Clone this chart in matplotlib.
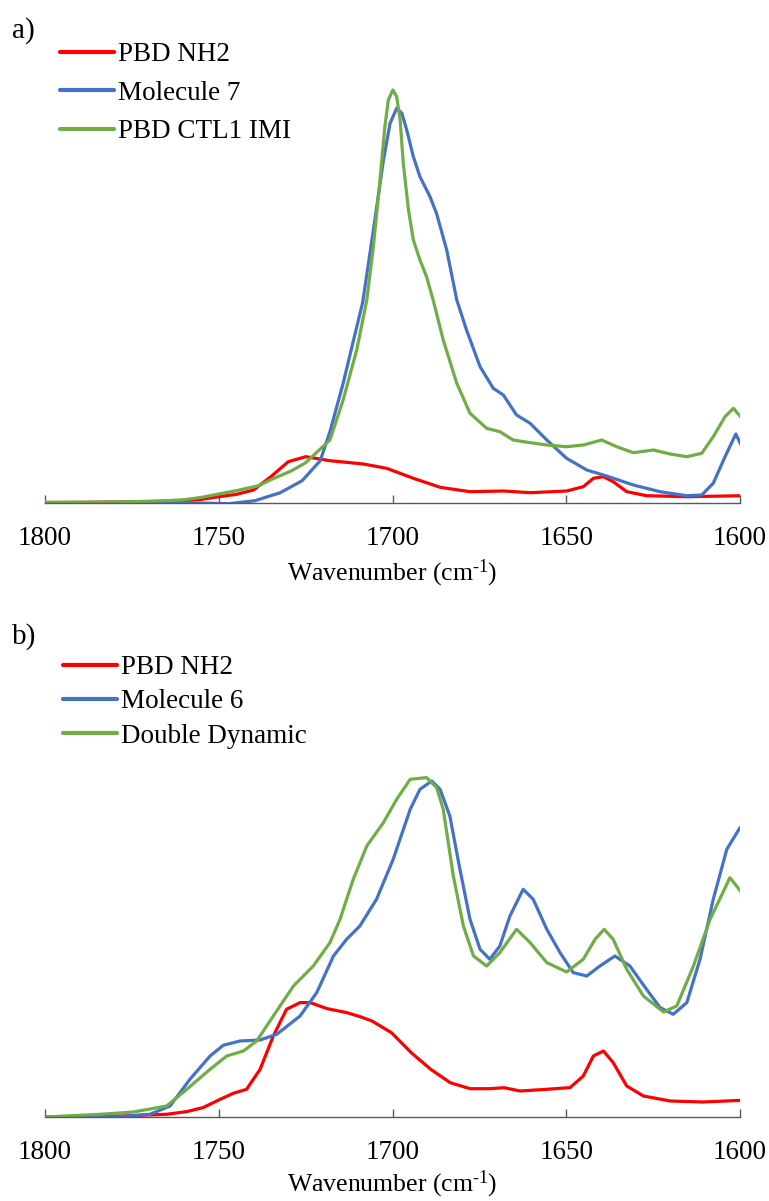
import matplotlib
matplotlib.use("Agg")
import matplotlib.pyplot as plt

plt.rcParams['font.family'] = ['Liberation Serif', 'DejaVu Serif']
plt.rcParams['mathtext.fontset'] = 'custom'
plt.rcParams['mathtext.rm'] = 'Liberation Serif'
plt.rcParams['mathtext.it'] = 'Liberation Serif:italic'

RED = '#FF0000'
BLUE = '#4472C4'
GREEN = '#70AD47'

# ---------------- Panel a data (wavenumber, absorbance a.u.) ----------------
a_red_x = [1800, 1785, 1770, 1760, 1755, 1750, 1745, 1740, 1735, 1730, 1725, 1718, 1708.4,
           1701.7, 1694, 1686.3, 1677.7, 1668.1, 1660.4, 1649.9, 1645.1, 1642.2, 1639.3,
           1636.5, 1632.6, 1626.9, 1615.3, 1599.2]
a_red_y = [0.0, 0.005, 0.01, 0.02, 0.033, 0.06, 0.083, 0.127, 0.26, 0.41, 0.46, 0.42, 0.387,
           0.344, 0.244, 0.154, 0.11, 0.117, 0.10, 0.117, 0.16, 0.244, 0.26,
           0.21, 0.11, 0.07, 0.06, 0.07]

a_blue_x = [1800, 1760, 1747, 1739.6, 1732.3, 1726, 1720.8, 1718, 1714.2, 1711.2, 1708.6,
            1705.5, 1702.6, 1700.7, 1698.8, 1697.3, 1695.9, 1694, 1692.1, 1689.2, 1687.3,
            1684.4, 1681.5, 1678.7, 1674.8, 1671, 1668.1, 1664.3, 1660.4, 1655.6, 1649.9,
            1644.1, 1638.4, 1630.7, 1623, 1615.3, 1611, 1607.7, 1604.3, 1601.2, 1599.2]
a_blue_y = [0.0, 0.0, -0.01, 0.02, 0.10, 0.22, 0.42, 0.71, 1.194, 1.627, 2.0,
            2.727, 3.427, 3.794, 3.944, 3.894, 3.727, 3.46, 3.26, 3.06, 2.89,
            2.527, 2.027, 1.727, 1.36, 1.144, 1.077, 0.877, 0.794, 0.627, 0.444,
            0.327, 0.267, 0.177, 0.11, 0.07, 0.077, 0.194, 0.46, 0.687, 0.544]

a_green_x = [1800, 1785, 1775, 1765, 1760, 1755, 1750, 1745, 1738.5, 1735, 1729, 1725, 1718,
             1714.2, 1710.3, 1707.4, 1705.5, 1703.6, 1702.2, 1701.2, 1699.9, 1698.8, 1697.8,
             1696.9, 1695.4, 1694, 1692.1, 1690.2, 1688.3, 1685.4, 1681.5, 1677.7, 1672.9,
             1669.1, 1665.3, 1660.4, 1655.6, 1649.9, 1645.1, 1639.8, 1635.5, 1630.7, 1624.9,
             1620.1, 1615.3, 1611, 1607.7, 1604.3, 1601.9, 1599.2]
a_green_y = [0.005, 0.005, 0.01, 0.02, 0.03, 0.053, 0.087, 0.12, 0.17, 0.23, 0.32, 0.40, 0.627,
             1.027, 1.527, 2.027, 2.56, 3.227, 3.76, 4.027, 4.127, 4.06, 3.827,
             3.394, 2.927, 2.627, 2.427, 2.26, 2.027, 1.627, 1.194, 0.894, 0.744,
             0.71, 0.627, 0.60, 0.577, 0.56, 0.577, 0.627, 0.56, 0.50, 0.527,
             0.487, 0.46, 0.494, 0.66, 0.86, 0.944, 0.834]

# ---------------- Panel b data ----------------
b_red_x = [1800, 1777.7, 1765, 1759.2, 1754.5, 1749.6, 1745.8, 1742, 1738.1, 1734.3, 1730.5,
           1726.6, 1723.7, 1718.9, 1713.2, 1709.4, 1705.9, 1700.3, 1694.6, 1689, 1683.4,
           1677.7, 1672.1, 1667.9, 1663.3, 1655.6, 1648.9, 1645.1, 1642.2, 1639.3, 1636.5,
           1632.6, 1627.8, 1620.1, 1610.6, 1599.5]
b_red_y = [0.0, 0.01, 0.027, 0.054, 0.094, 0.177, 0.237, 0.277, 0.477, 0.81, 1.077,
           1.144, 1.144, 1.084, 1.044, 1.004, 0.96, 0.843, 0.643, 0.477, 0.343,
           0.283, 0.283, 0.293, 0.26, 0.277, 0.294, 0.41, 0.61, 0.66, 0.544,
           0.31, 0.21, 0.16, 0.15, 0.167]

b_blue_x = [1800, 1780, 1769.8, 1764, 1758.3, 1752.5, 1748.7, 1743.9, 1738.1, 1733.3, 1726.6,
            1721.8, 1717, 1713.2, 1709.4, 1704.6, 1699.8, 1694.9, 1692.1, 1688.7, 1686.3,
            1683.5, 1680.6, 1677.7, 1674.8, 1672, 1669.1, 1666.2, 1662.4, 1659.5, 1655.6,
            1651.8, 1648, 1644.1, 1640.3, 1636, 1631.7, 1626.9, 1623, 1619.2, 1615.3,
            1611.5, 1607.7, 1603.8, 1600]
b_blue_y = [0.0, 0.0, 0.027, 0.11, 0.377, 0.61, 0.717, 0.76, 0.77, 0.827, 1.01,
            1.244, 1.61, 1.777, 1.91, 2.177, 2.577, 3.077, 3.277, 3.36, 3.277,
            3.01, 2.477, 1.977, 1.677, 1.577, 1.71, 2.01, 2.277, 2.177, 1.877,
            1.644, 1.444, 1.41, 1.51, 1.61, 1.51, 1.277, 1.094, 1.027, 1.144,
            1.577, 2.177, 2.677, 2.894]

b_green_x = [1800, 1784.2, 1774.6, 1765, 1759.2, 1752.5, 1747.7, 1742.9, 1739.1, 1734.3,
             1728.5, 1722.8, 1718, 1715.1, 1711.3, 1707.4, 1702.6, 1698.8, 1694.9, 1690.2,
             1687.3, 1685.4, 1682.5, 1679.6, 1676.7, 1672.9, 1669.1, 1664.3, 1660.4, 1655.6,
             1649.9, 1645.1, 1641.7, 1639.1, 1636.5, 1632.6, 1627.8, 1622, 1618.2, 1613.4,
             1608.6, 1602.9, 1599.5]
b_green_y = [0.0, 0.027, 0.05, 0.11, 0.277, 0.477, 0.61, 0.66, 0.76, 1.01,
             1.31, 1.51, 1.744, 1.977, 2.377, 2.71, 2.944, 3.177, 3.377, 3.394,
             3.294, 3.077, 2.41, 1.91, 1.61, 1.51, 1.644, 1.877, 1.744, 1.544,
             1.45, 1.577, 1.777, 1.877, 1.777, 1.477, 1.21, 1.05, 1.11, 1.51,
             1.977, 2.393, 2.244]

xticks = [1800, 1750, 1700, 1650, 1600]
xlabel = 'Wavenumber (cm$^{\\mathregular{\u2010}1}$)'

a_labels = ['PBD NH2', 'Molecule 7', 'PBD CTL1 IMI']
b_labels = ['PBD NH2', 'Molecule 6', 'Double Dynamic']

W, H = 769, 1201
fig = plt.figure(figsize=(W / 100, H / 100), dpi=100)

left = 45 / W
width = 695 / W


def make_panel(bottom_px, top_px, series, labels, tag, tag_y, leg_x, leg_top, spacing,
               lpad):
    ax = fig.add_axes([left, 1 - bottom_px / H, width, (bottom_px - top_px) / H])
    lines = []
    for (x, y), c, lab in zip(series, [RED, BLUE, GREEN], labels):
        ln, = ax.plot(x, y, color=c, lw=2.3, label=lab,
                      solid_capstyle='round', solid_joinstyle='round')
        lines.append(ln)
    ax.set_xlim(1800, 1600)
    ax.set_ylim(0, (bottom_px - top_px) / 100)
    for s in ['top', 'right', 'left']:
        ax.spines[s].set_visible(False)
    ax.spines['bottom'].set_color('#595959')
    ax.spines['bottom'].set_linewidth(1.0)
    ax.set_yticks([])
    ax.set_xticks(xticks)
    ax.set_xticklabels([str(t) for t in xticks])
    ax.tick_params(axis='x', direction='in', length=6, width=1.0, color='#595959',
                   labelsize=19.5, pad=16.5)
    ax.set_xlabel(xlabel, fontsize=18.5, labelpad=lpad)
    leg = ax.legend(handles=lines, loc='upper left', frameon=False, fontsize=19.5,
                    bbox_to_anchor=(leg_x / W, 1 - leg_top / H),
                    bbox_transform=fig.transFigure, handlelength=2.0,
                    handletextpad=0.15, labelspacing=spacing, borderaxespad=0, borderpad=0)
    for lh in leg.get_lines():
        lh.set_linewidth(3)
    fig.text(12 / W, 1 - tag_y / H, tag, fontsize=21, ha='left', va='center')
    return ax


make_panel(502.7, 40,
           [(a_red_x, a_red_y), (a_blue_x, a_blue_y), (a_green_x, a_green_y)],
           a_labels, 'a)', 31, 60, 42, 0.5, 5)
make_panel(1117, 650,
           [(b_red_x, b_red_y), (b_blue_x, b_blue_y), (b_green_x, b_green_y)],
           b_labels, 'b)', 637, 63, 655, 0.35, 2.5)

fig.savefig('out.png', dpi=100)
